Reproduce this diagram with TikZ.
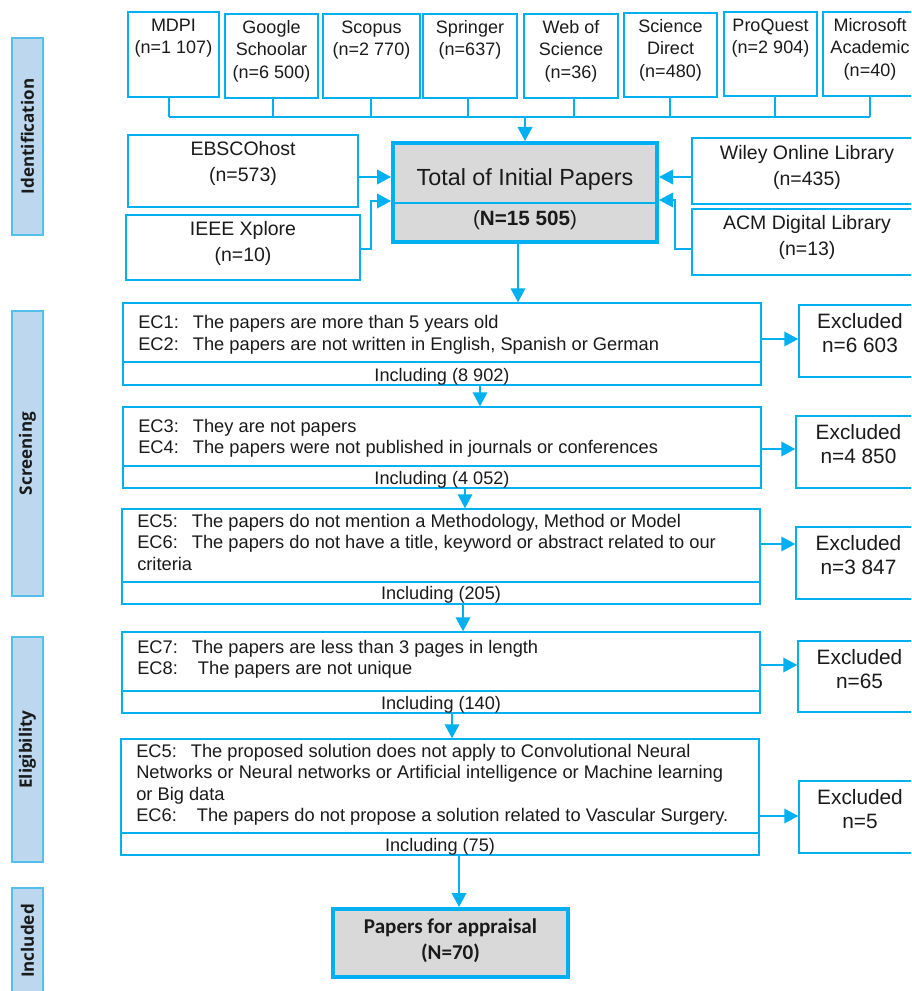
\documentclass[tikz,border=0pt]{standalone}
\usepackage{fontspec}
\setmainfont{Liberation Sans}
\newfontfamily\phasefont{Open Sans}
\newfontfamily\calfont{Carlito}
\usetikzlibrary{arrows.meta,fit}
\definecolor{bl}{RGB}{0,176,240}
\definecolor{phaseline}{RGB}{85,190,235}
\definecolor{phasefill}{RGB}{189,215,238}
\definecolor{grayfill}{RGB}{217,217,217}
\definecolor{txt}{RGB}{26,26,26}
\newcommand\ecl[1]{\makebox[41pt][l]{#1}}
\begin{document}
\begin{tikzpicture}[x=0.75pt,y=-0.75pt,
  box/.style={draw=bl,line width=1.1pt,inner sep=0pt},
  totalbox/.style={draw=bl,line width=3pt,fill=grayfill,inner sep=0pt},
  phasebox/.style={draw=phaseline,line width=1.5pt,fill=phasefill,inner sep=0pt},
  phasetext/.style={rotate=90,text=txt,inner sep=0pt,font=\phasefont\bfseries\fontsize{12.8pt}{14pt}\selectfont},
  conn/.style={draw=bl,line width=1.1pt},
  arr/.style={draw=bl,line width=1.1pt,-{Triangle[length=10.5pt,width=11pt]}},
  tx/.style={text=txt,inner sep=0pt},
  toptext/.style={tx,align=center,anchor=base,font=\fontsize{13.5pt}{16.9pt}\selectfont},
  sidetext/.style={tx,align=center,anchor=base,font=\fontsize{14.6pt}{20pt}\selectfont},
  ectext/.style={tx,align=left,anchor=base west,font=\fontsize{13.7pt}{16pt}\selectfont},
  inctext/.style={tx,anchor=base,font=\fontsize{13.6pt}{16pt}\selectfont},
  excltext/.style={text=txt,align=center,font=\fontsize{15.6pt}{18pt}\selectfont},
]
\useasboundingbox (0,0) rectangle (911,991);
\clip (0,0) rectangle (911,991);

% phase bars
\node[phasebox,fit={(12,38)(43,235)}] (pid) {};
\node[phasetext] (pidT) at (pid.center) {Identification};
\node[phasebox,fit={(12,311)(43,596)}] (psc) {};
\node[phasetext] (pscT) at (psc.center) {Screening};
\node[phasebox,fit={(12,637)(43,862)}] (pel) {};
\node[phasetext] (pelT) at (pel.center) {Eligibility};
\node[phasebox,fit={(12,888)(43,994)}] (pin) {};
\node[phasetext] (pinT) at (27.5,941) {Included};

% top sources (anchor = baseline of last line)
\node[box,fit={(128,12)(219,97)}] (mdpi) {};
\node[toptext] (mdpiT) at (173.5,54) {MDPI\\(n=1 107)};
\node[box,fit={(225,14)(318,98)}] (goog) {};
\node[toptext] (googT) at (271.5,78.5) {Google\\Schoolar\\(n=6 500)};
\node[box,fit={(323,14)(420,98)}] (scop) {};
\node[toptext] (scopT) at (371.5,56) {Scopus\\(n=2 770)};
\node[box,fit={(423,14)(517,98)}] (spri) {};
\node[toptext] (spriT) at (470,56) {Springer\\(n=637)};
\node[box,fit={(524,14)(618,98)}] (wos) {};
\node[toptext] (wosT) at (571,78.5) {Web of\\Science\\(n=36)};
\node[box,fit={(624,13)(717,97)}] (sdir) {};
\node[toptext] (sdirT) at (670.5,77.5) {Science\\Direct\\(n=480)};
\node[box,fit={(724,12)(817,96)}] (proq) {};
\node[toptext] (proqT) at (770.5,54) {ProQuest\\(n=2 904)};
\node[box,fit={(823,12)(917,96)}] (msa) {};
\node[toptext] (msaT) at (870,76.5) {Microsoft\\Academic\\(n=40)};

% bus
\coordinate (d1) at (169,117);
\coordinate (d2) at (273,117);
\coordinate (d3) at (371,117);
\coordinate (d4) at (468,117);
\coordinate (d5) at (574,117);
\coordinate (d6) at (670,117);
\coordinate (d7) at (775,117);
\coordinate (d8) at (870,117);
\coordinate (dm) at (525,117);
\draw[conn] (mdpi.south -| d1) -- (d1);
\draw[conn] (goog.south -| d2) -- (d2);
\draw[conn] (scop.south -| d3) -- (d3);
\draw[conn] (spri.south -| d4) -- (d4);
\draw[conn] (wos.south -| d5) -- (d5);
\draw[conn] (sdir.south -| d6) -- (d6);
\draw[conn] (proq.south -| d7) -- (d7);
\draw[conn] (msa.south -| d8) -- (d8);
\draw[conn] (d1) -- (d8);

% total
\node[totalbox,fit={(393,143)(657,242)}] (total) {};
\coordinate (tdiv) at (0,203);
\draw[draw=bl,line width=2pt] (total.west |- tdiv) -- (total.east |- tdiv);
\node[tx,anchor=base,font=\fontsize{17.5pt}{20pt}\selectfont] (totalT) at (525,186) {Total of Initial Papers};
\node[tx,anchor=base,font=\fontsize{15.5pt}{18pt}\selectfont] (totalN) at (525,225) {(\textbf{N=15 505})};
\draw[arr] (dm) -- (total.north);

% side sources
\node[box,fit={(128,135)(358,207)}] (ebsco) {};
\node[sidetext] (ebscoT) at (243,181.7) {EBSCOhost\\(n=573)};
\node[box,fit={(126,215)(360,280)}] (ieee) {};
\node[sidetext] (ieeeT) at (243,261.7) {IEEE Xplore\\(n=10)};
\node[box,fit={(692,138)(922,204)}] (wiley) {};
\node[sidetext] (wileyT) at (807,185.7) {Wiley Online Library\\(n=435)};
\node[box,fit={(692,209)(922,275)}] (acm) {};
\node[sidetext] (acmT) at (807,255.7) {ACM Digital Library\\(n=13)};

\coordinate (e1) at (0,177);
\draw[arr] (ebsco.east |- e1) -- (total.west |- e1);
\coordinate (i1) at (371,249);
\coordinate (i2) at (371,201);
\draw[arr] (ieee.east |- i1) -- (i1) -- (i2) -- (total.west |- i2);
\draw[arr] (wiley.west |- e1) -- (total.east |- e1);
\coordinate (a1) at (675,249);
\coordinate (a2) at (675,200);
\draw[arr] (acm.west |- a1) -- (a1) -- (a2) -- (total.east |- a2);

% screening / eligibility boxes
\node[box,fit={(123,303)(761,385)}] (b1) {};
\node[box,fit={(123,407)(761,488)}] (b2) {};
\node[box,fit={(122,509)(760,604)}] (b3) {};
\node[box,fit={(122,632)(760,713)}] (b4) {};
\node[box,fit={(121,739)(759,855)}] (b5) {};
\coordinate (v1) at (0,362);
\coordinate (v2) at (0,466);
\coordinate (v3) at (0,582);
\coordinate (v4) at (0,691);
\coordinate (v5) at (0,833);
\draw[conn] (b1.west |- v1) -- (b1.east |- v1);
\draw[conn] (b2.west |- v2) -- (b2.east |- v2);
\draw[conn] (b3.west |- v3) -- (b3.east |- v3);
\draw[conn] (b4.west |- v4) -- (b4.east |- v4);
\draw[conn] (b5.west |- v5) -- (b5.east |- v5);

\node[ectext] (b1T) at (138,350.3) {\ecl{EC1:}The papers are more than 5 years old\\\ecl{EC2:}The papers are not written in English, Spanish or German};
\node[inctext] (b1I) at (442,381.5) {Including (8 902)};
\node[ectext] (b2T) at (138,453.8) {\ecl{EC3:}They are not papers\\\ecl{EC4:}The papers were not published in journals or conferences};
\node[inctext] (b2I) at (442,484.5) {Including (4 052)};
\node[ectext] (b3T) at (137,570.2) {\ecl{EC5:}The papers do not mention a Methodology, Method or Model\\\ecl{EC6:}The papers do not have a title, keyword or abstract related to our\\criteria};
\node[inctext] (b3I) at (441,599.5) {Including (205)};
\node[ectext] (b4T) at (137,674.8) {\ecl{EC7:}The papers are less than 3 pages in length\\\ecl{EC8:}\hspace{4.5pt}The papers are not unique};
\node[inctext] (b4I) at (441,709.5) {Including (140)};
\node[ectext] (b5T) at (136,821.5) {\ecl{EC5:}The proposed solution does not apply to Convolutional Neural\\Networks or Neural networks or Artificial intelligence or Machine learning\\or Big data\\\ecl{EC6:}\hspace{4.5pt}The papers do not propose a solution related to Vascular Surgery.};
\node[inctext] (b5I) at (440,851.5) {Including (75)};

% excluded
\node[box,excltext,fit={(799,305)(921,377)}] (x1) {Excluded\\n=6 603};
\node[box,excltext,fit={(796,416)(921,488)}] (x2) {Excluded\\n=4 850};
\node[box,excltext,fit={(796,527)(921,599)}] (x3) {Excluded\\n=3 847};
\node[box,excltext,fit={(798,641)(921,712)}] (x4) {Excluded\\n=65};
\node[box,excltext,fit={(799,781)(921,853)}] (x5) {Excluded\\n=5};

\coordinate (h1) at (0,339);
\coordinate (h2) at (0,449);
\coordinate (h3) at (0,544);
\coordinate (h4) at (0,665);
\coordinate (h5) at (0,816);
\draw[arr] (b1.east |- h1) -- (x1.west |- h1);
\draw[arr] (b2.east |- h2) -- (x2.west |- h2);
\draw[arr] (b3.east |- h3) -- (x3.west |- h3);
\draw[arr] (b4.east |- h4) -- (x4.west |- h4);
\draw[arr] (b5.east |- h5) -- (x5.west |- h5);

% final
\node[totalbox,fit={(333,909)(568,977)}] (final) {};
\node[tx,align=center,anchor=base,font=\calfont\bfseries\fontsize{15.8pt}{18.8pt}\selectfont] (finalT) at (450.5,959) {Papers for appraisal\\(\textbf{N=70})};

% vertical arrows
\coordinate (c0) at (518,0);
\coordinate (c1) at (480,0);
\coordinate (c2) at (465,0);
\coordinate (c3) at (463,0);
\coordinate (c4) at (452,0);
\coordinate (c5) at (459,0);
\draw[arr] (total.south -| c0) -- (b1.north -| c0);
\draw[arr] (b1.south -| c1) -- (b2.north -| c1);
\draw[arr] (b2.south -| c2) -- (b3.north -| c2);
\draw[arr] (b3.south -| c3) -- (b4.north -| c3);
\draw[arr] (b4.south -| c4) -- (b5.north -| c4);
\draw[arr] (b5.south -| c5) -- (final.north -| c5);
\end{tikzpicture}
\end{document}
